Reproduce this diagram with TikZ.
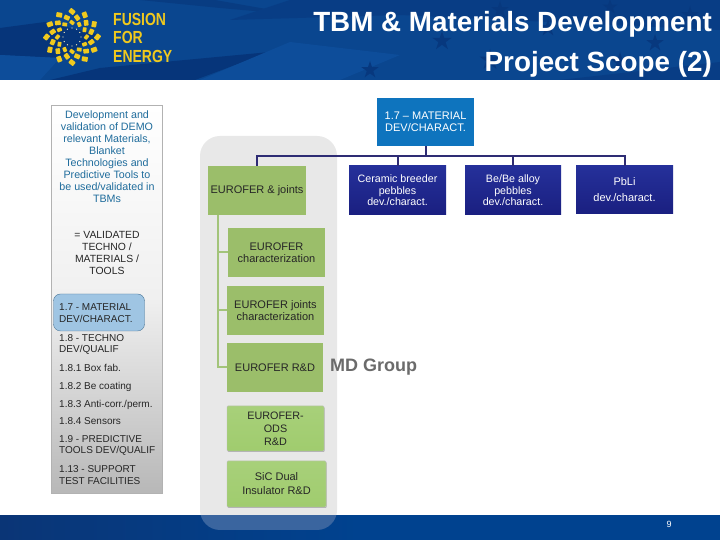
\documentclass[tikz,border=0pt]{standalone}
\usepackage{fontspec}
\setmainfont{Liberation Sans}
\usetikzlibrary{shadows}
\definecolor{headblue}{HTML}{0A468F}
\definecolor{headdark}{HTML}{06357A}
\definecolor{headlight}{HTML}{0D4D9A}
\definecolor{footblue}{HTML}{00428F}
\definecolor{footdark}{HTML}{0A3576}
\definecolor{logoyellow}{HTML}{F0C91E}
\definecolor{backgrey}{HTML}{E8E8E8}
\definecolor{leafgreen}{HTML}{9BBE6A}
\definecolor{leafbright}{HTML}{A0CC6E}
\definecolor{leafline}{HTML}{A3C47A}
\definecolor{topblue}{HTML}{0E74BE}
\definecolor{busblue}{HTML}{2E2C74}
\definecolor{scopeblue}{HTML}{3A659F}
\definecolor{darktop}{HTML}{25309A}
\definecolor{darkbottom}{HTML}{1A1F80}
\definecolor{goalteal}{HTML}{1F6C9C}
\definecolor{markblue}{HTML}{9FC5E3}
\definecolor{markline}{HTML}{4A7596}
\tikzset{
	greenbox/.style={fill=leafgreen,minimum width=97pt,minimum height=49pt,align=center,font=\fontsize{11}{12}\selectfont,text=black!85,inner sep=0pt},
	raisedbox/.style={greenbox,rounded corners=1pt,top color=leafbright!92!white,bottom color=leafbright,draw=black!25,drop shadow={shadow xshift=0.5pt,shadow yshift=-1pt,opacity=.5}},
	darkbox/.style={top color=darktop,bottom color=darkbottom,minimum width=97pt,minimum height=49pt,align=center,font=\fontsize{10.7}{11.5}\selectfont,text=white,inner sep=0pt},
	itemtext/.style={anchor=west,align=left,font=\fontsize{10}{11.7}\selectfont,text=black!85,inner sep=0pt},
	logotext/.style={anchor=west,inner sep=0pt,text=logoyellow,font=\bfseries\fontsize{17.5}{17.5}\selectfont},
	busline/.style={draw=busblue,line width=2pt},
	treeline/.style={draw=leafline,line width=2pt},
	scopeback/.style={minimum width=137pt,minimum height=394pt,rounded corners=20pt,inner sep=0pt}
}
\begin{document}
\begin{tikzpicture}[x=1pt,y=1pt]
	\useasboundingbox (0,0) rectangle (720,540);
	\fill[white] (0,0) rectangle (720,540);
	\fill[headblue] (0,460) rectangle (720,540);
	\fill[headdark] (0,512)--(45,518)--(100,505)--(60,482)--(0,485)--cycle;
	\fill[headdark] (50,460)--(100,472)--(270,488)--(195,460)--cycle;
	\fill[headlight] (0,485)--(60,482)--(40,460)--(0,460)--cycle;
	\fill[headdark!60!headblue] (140,540)--(215,540)--(300,525)--(220,532)--cycle;
	\fill[headlight] (200,460)--(290,498)--(400,485)--(340,460)--cycle;
	\fill[headdark!50!headblue] (230,520)--(400,525)--(720,510)--(720,540)--(290,540)--cycle;
	\fill[headdark!50!headblue] (560,460)--(720,478)--(720,460)--cycle;
	\foreach \x/\y/\s in {442/499/10,500/530/9,548/512/9,610/533/8,655/497/9,490/480/11,620/478/10,370/470/9,690/525/9} \fill[headdark!80!headblue,shift={(\x,\y)}] (90:\s)--(234:\s)--(18:\s)--(162:\s)--(306:\s)--cycle;
	\foreach \a in {0,30,...,330} {
		\foreach \r/\o/\s in {14.5/0/3,20/15/3.6,25.5/0/3.8} \fill[logoyellow,shift={(72,503)},rotate=\a+\o,rounded corners=.6pt] (\r+\s,0.8)--(\r,\s)--(\r-\s,-0.8)--(\r,-\s)--cycle;
		\fill[white!70!logoyellow,shift={(72,503)},rotate=\a] (9,0) circle (0.7);
	}
	\node[logotext] (fusion) at (113,520.5) {\scalebox{.8}[1]{FUSION}};
	\node[logotext] (for) at (113,502.5) {\scalebox{.8}[1]{FOR}};
	\node[logotext] (energy) at (113,484) {\scalebox{.8}[1]{ENERGY}};
	\node[anchor=east,inner sep=0pt,text=white,font=\bfseries\fontsize{27.8}{40}\selectfont,align=right] (title) at (712,496) {TBM \& Materials Development\\Project Scope (2)};
	\node[scopeback,fill=backgrey] (scope) at (268.5,207) {};
	\fill[left color=footdark,right color=footblue,middle color=footblue] (0,0) rectangle (720,24);
	\begin{scope}
		\clip (0,0) rectangle (720,24);
		\node[scopeback,fill=scopeblue] (scopelow) at (268.5,207) {};
	\end{scope}
	\node[text=white,inner sep=0pt,font=\fontsize{9}{10}\selectfont] (page) at (669,16) {9};
	\node[minimum width=111pt,minimum height=388pt,inner sep=0pt,draw=black!30,top color=white,bottom color=black!28,middle color=black!6,drop shadow={shadow xshift=0pt,shadow yshift=-1.5pt,opacity=.4}] (side) at (106.5,241) {};
	\node[text=goalteal,align=center,inner sep=0pt,font=\fontsize{10.7}{12}\selectfont] (goal) at (107,383) {Development and\\validation of DEMO\\relevant Materials,\\Blanket\\Technologies and\\Predictive Tools to\\be used/validated in\\TBMs};
	\node[align=center,inner sep=0pt,text=black!85,font=\fontsize{10.4}{12}\selectfont] (valid) at (107,287) {= VALIDATED\\TECHNO /\\MATERIALS /\\TOOLS};
	\node[fill=markblue,draw=markline,rounded corners=7pt,minimum width=91pt,minimum height=37pt,inner sep=0pt] (mark) at (99,227.5) {};
	\node[itemtext] (it1) at (59,227) {1.7 - MATERIAL\\DEV/CHARACT.};
	\node[itemtext] (it2) at (59,195.5) {1.8 - TECHNO\\DEV/QUALIF};
	\node[itemtext] (it3) at (59,172.5) {1.8.1 Box fab.};
	\node[itemtext] (it4) at (59,153.5) {1.8.2 Be coating};
	\node[itemtext] (it5) at (59,135.5) {1.8.3 Anti-corr./perm.};
	\node[itemtext] (it6) at (59,118.5) {1.8.4 Sensors};
	\node[itemtext] (it7) at (59,94.5) {1.9 - PREDICTIVE\\TOOLS DEV/QUALIF};
	\node[itemtext] (it8) at (59,65) {1.13 - SUPPORT\\TEST FACILITIES};
	\coordinate (bus) at (425.5,384);
	\coordinate (trunk) at (218,325);
	\node[fill=topblue,text=white,minimum width=97pt,minimum height=48pt,align=center,inner sep=0pt,font=\fontsize{11}{12}\selectfont] (top) at (425.5,418) {1.7 – MATERIAL\\DEV/CHARACT.};
	\node[greenbox,minimum width=98pt] (joints) at (257,349.5) {EUROFER \& joints};
	\node[darkbox] (ceramic) at (397.5,349.5) {Ceramic breeder\\pebbles\\dev./charact.};
	\node[darkbox,minimum width=96pt] (bealloy) at (513,349.5) {Be/Be alloy\\pebbles\\dev./charact.};
	\node[darkbox,minimum height=48pt,font=\fontsize{11}{16}\selectfont] (pbli) at (624.5,350) {PbLi\\dev./charact.};
	\node[greenbox] (charact) at (276.5,287.5) {EUROFER\\characterization};
	\node[greenbox] (jointchar) at (275.5,229.5) {EUROFER joints\\characterization};
	\node[greenbox,minimum width=96pt] (rnd) at (275,172.5) {EUROFER R\&D};
	\node[raisedbox,minimum height=45pt,font=\fontsize{10.8}{13}\selectfont] (ods) at (275.5,111.5) {EUROFER-\\ODS\\R\&D};
	\node[raisedbox,minimum width=99pt,minimum height=46pt,font=\fontsize{11}{14}\selectfont] (sic) at (276.5,56) {SiC Dual\\Insulator R\&D};
	\node[anchor=west,inner sep=0pt,text=black!58,font=\bfseries\fontsize{18}{20}\selectfont] (mdgroup) at (330,173) {MD Group};
	\draw[busline] (top.south)--(bus);
	\foreach \P in {joints,ceramic,bealloy,pbli} \draw[busline] (bus) -| (\P.north);
	\foreach \P in {charact,jointchar,rnd} \draw[treeline] (trunk) |- (\P.west);
\end{tikzpicture}
\end{document}
